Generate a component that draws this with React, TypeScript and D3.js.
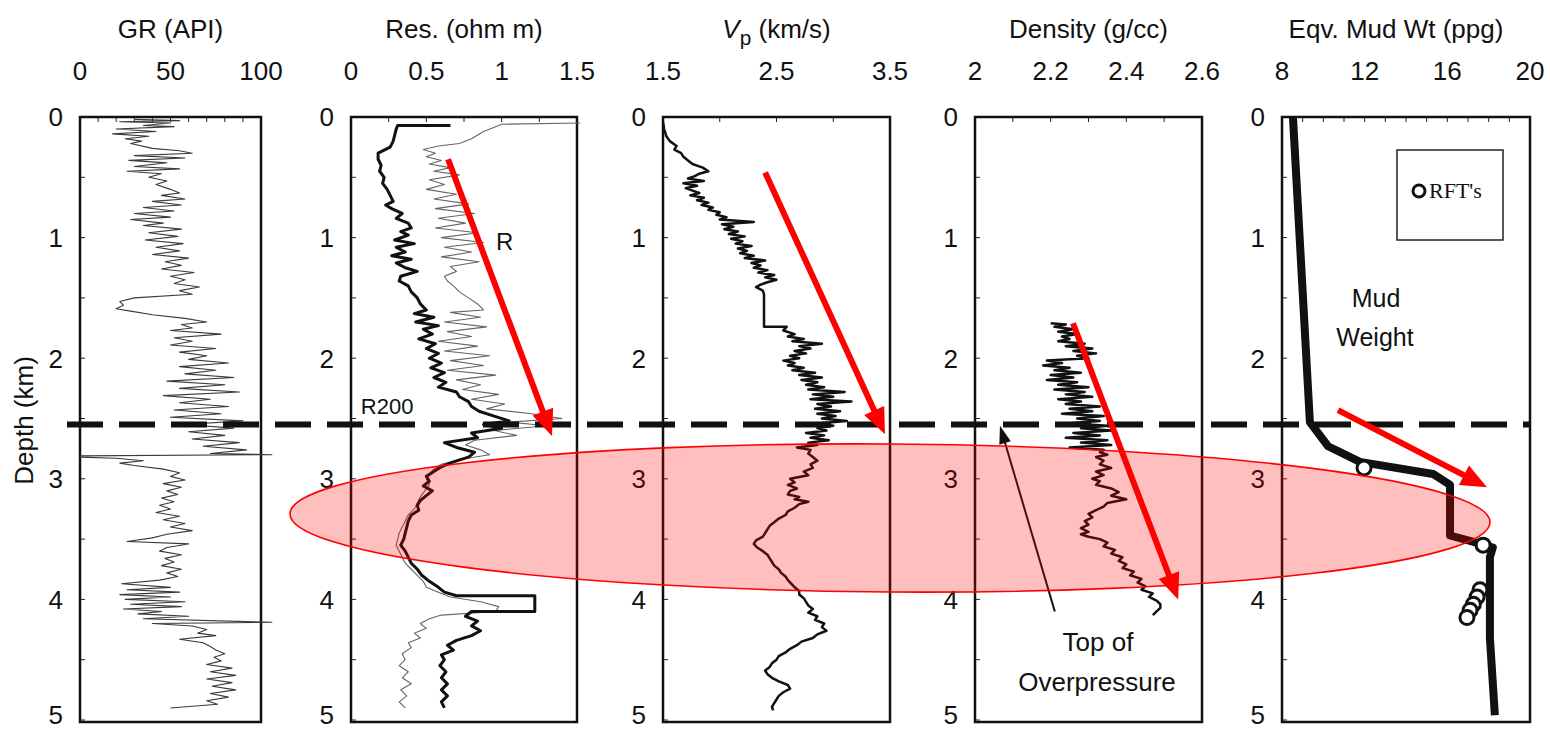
import React from 'react';
import * as d3 from 'd3';

// ---------------- DATA ----------------
const depthTicks = [0, 1, 2, 3, 4, 5];
const grTicks = [0, 50, 100];
const resTicks = [0, 0.5, 1, 1.5];
const vpTicks = [1.5, 2.5, 3.5];
const denTicks = [2, 2.2, 2.4, 2.6];
const mudTicks = [8, 12, 16, 20];

// [depth km, GR API]
const grLog: [number, number][] = [
  [0.02, 30], [0.03, 55], [0.04, 22], [0.05, 50], [0.07, 35], [0.08, 52], [0.1, 20], [0.12, 42], [0.14, 18], [0.16, 38],
  [0.18, 25], [0.2, 34], [0.22, 28], [0.26, 40], [0.28, 55], [0.3, 62], [0.32, 30], [0.34, 58], [0.36, 27], [0.38, 48],
  [0.41, 30], [0.43, 55], [0.45, 26], [0.47, 45], [0.5, 38], [0.53, 48], [0.56, 42], [0.6, 50], [0.63, 55], [0.65, 45],
  [0.68, 58], [0.7, 40], [0.73, 56], [0.75, 35], [0.78, 52], [0.8, 30], [0.83, 50], [0.85, 28], [0.88, 46], [0.9, 35],
  [0.93, 56], [0.96, 38], [0.99, 54], [1.02, 36], [1.05, 57], [1.08, 42], [1.11, 55], [1.14, 40], [1.17, 60], [1.2, 47],
  [1.23, 56], [1.26, 45], [1.29, 63], [1.32, 50], [1.35, 58], [1.38, 52], [1.41, 66], [1.44, 55], [1.47, 62], [1.5, 30],
  [1.53, 22], [1.56, 24], [1.59, 20], [1.61, 28], [1.64, 40], [1.67, 58], [1.7, 70], [1.72, 56], [1.75, 62], [1.77, 50],
  [1.8, 78], [1.83, 52], [1.86, 62], [1.89, 50], [1.92, 75], [1.95, 55], [1.98, 70], [2.01, 60], [2.04, 82], [2.07, 55],
  [2.1, 75], [2.13, 58], [2.16, 85], [2.19, 48], [2.22, 80], [2.25, 55], [2.28, 88], [2.31, 46], [2.34, 72], [2.37, 55],
  [2.4, 82], [2.43, 52], [2.46, 78], [2.49, 50], [2.52, 90], [2.55, 58], [2.58, 85], [2.61, 60], [2.64, 80], [2.67, 62],
  [2.7, 88], [2.73, 68], [2.76, 92], [2.79, 72], [2.8, 106], [2.81, 0], [2.82, 0], [2.83, 20], [2.85, 35], [2.87, 22],
  [2.89, 30], [2.92, 46], [2.95, 55], [2.98, 50], [3.01, 58], [3.04, 46], [3.07, 56], [3.1, 48], [3.13, 54], [3.16, 45],
  [3.19, 52], [3.22, 44], [3.25, 50], [3.28, 42], [3.31, 55], [3.34, 46], [3.37, 58], [3.4, 50], [3.43, 62], [3.46, 48],
  [3.49, 40], [3.52, 26], [3.54, 60], [3.57, 48], [3.6, 44], [3.63, 56], [3.66, 47], [3.69, 52], [3.72, 45], [3.75, 56],
  [3.78, 48], [3.81, 54], [3.84, 44], [3.87, 23], [3.9, 50], [3.92, 26], [3.94, 55], [3.96, 22], [3.98, 50], [4.0, 25],
  [4.02, 58], [4.04, 28], [4.06, 56], [4.08, 24], [4.1, 45], [4.12, 32], [4.14, 60], [4.16, 35], [4.19, 106], [4.2, 40],
  [4.22, 62], [4.25, 70], [4.28, 65], [4.3, 75], [4.33, 55], [4.36, 68], [4.39, 72], [4.42, 75], [4.45, 80], [4.48, 74],
  [4.51, 78], [4.54, 70], [4.57, 84], [4.6, 72], [4.63, 86], [4.66, 70], [4.69, 84], [4.72, 73], [4.75, 86], [4.78, 72],
  [4.81, 82], [4.84, 70], [4.87, 76], [4.9, 50],
];

// [depth km, resistivity ohm m] — thick (deep) curve
const resDeep: [number, number][] = [
  [0.07, 0.66], [0.07, 0.31], [0.1, 0.3], [0.15, 0.29], [0.2, 0.28], [0.25, 0.26], [0.3, 0.18], [0.35, 0.18], [0.4, 0.2],
  [0.45, 0.19], [0.5, 0.22], [0.55, 0.21], [0.6, 0.24], [0.65, 0.26], [0.7, 0.28], [0.73, 0.23], [0.76, 0.27], [0.8, 0.34],
  [0.84, 0.3], [0.88, 0.38], [0.92, 0.4], [0.95, 0.33], [0.98, 0.38], [1.02, 0.29], [1.05, 0.42], [1.08, 0.3], [1.12, 0.36],
  [1.15, 0.27], [1.18, 0.4], [1.21, 0.3], [1.25, 0.36], [1.28, 0.44], [1.32, 0.33], [1.36, 0.32], [1.4, 0.38], [1.45, 0.4],
  [1.5, 0.44], [1.55, 0.46], [1.6, 0.5], [1.63, 0.42], [1.66, 0.55], [1.7, 0.43], [1.73, 0.58], [1.76, 0.48], [1.8, 0.54],
  [1.84, 0.45], [1.88, 0.56], [1.92, 0.5], [1.96, 0.58], [2.0, 0.52], [2.04, 0.6], [2.08, 0.53], [2.12, 0.62], [2.16, 0.55],
  [2.2, 0.63], [2.24, 0.58], [2.28, 0.7], [2.32, 0.72], [2.36, 0.78], [2.4, 0.8], [2.44, 0.85], [2.48, 0.95], [2.52, 1.05],
  [2.55, 0.88], [2.58, 1.0], [2.62, 0.8], [2.66, 0.84], [2.7, 0.62], [2.74, 0.7], [2.78, 0.82], [2.82, 0.78], [2.86, 0.68],
  [2.9, 0.6], [2.94, 0.55], [2.98, 0.5], [3.02, 0.52], [3.06, 0.48], [3.1, 0.54], [3.14, 0.5], [3.18, 0.46], [3.22, 0.44],
  [3.26, 0.45], [3.3, 0.4], [3.35, 0.38], [3.4, 0.37], [3.45, 0.36], [3.5, 0.35], [3.55, 0.33], [3.6, 0.36], [3.65, 0.38],
  [3.7, 0.4], [3.75, 0.44], [3.8, 0.47], [3.85, 0.52], [3.9, 0.58], [3.94, 0.62], [3.97, 0.7], [3.97, 1.22], [4.1, 1.22],
  [4.1, 0.8], [4.14, 0.76], [4.18, 0.84], [4.22, 0.8], [4.26, 0.86], [4.3, 0.8], [4.34, 0.7], [4.38, 0.64], [4.42, 0.68],
  [4.46, 0.6], [4.5, 0.62], [4.55, 0.59], [4.6, 0.63], [4.65, 0.6], [4.7, 0.64], [4.75, 0.6], [4.8, 0.64], [4.85, 0.6],
  [4.9, 0.62],
];

// [depth km, resistivity ohm m] — thin (shallow) curve
const resShallow: [number, number][] = [
  [0.05, 1.52], [0.06, 1.0], [0.08, 0.96], [0.12, 0.88], [0.18, 0.8], [0.22, 0.72], [0.24, 0.58], [0.27, 0.48], [0.3, 0.56],
  [0.33, 0.5], [0.36, 0.6], [0.39, 0.52], [0.42, 0.66], [0.45, 0.55], [0.48, 0.72], [0.52, 0.52], [0.56, 0.62], [0.6, 0.5],
  [0.64, 0.7], [0.68, 0.55], [0.72, 0.78], [0.76, 0.56], [0.8, 0.82], [0.84, 0.58], [0.88, 0.76], [0.92, 0.56], [0.96, 0.84],
  [1.0, 0.6], [1.04, 0.88], [1.08, 0.62], [1.12, 0.8], [1.16, 0.6], [1.2, 0.85], [1.24, 0.66], [1.28, 0.7], [1.32, 0.62],
  [1.36, 0.64], [1.4, 0.68], [1.45, 0.72], [1.5, 0.78], [1.55, 0.84], [1.6, 0.88], [1.62, 0.66], [1.66, 0.86], [1.7, 0.62],
  [1.74, 0.9], [1.78, 0.64], [1.82, 0.8], [1.86, 0.58], [1.9, 0.84], [1.94, 0.62], [1.98, 0.92], [2.02, 0.66], [2.06, 0.88],
  [2.1, 0.64], [2.14, 0.96], [2.18, 0.7], [2.22, 0.86], [2.26, 0.74], [2.3, 0.98], [2.34, 0.8], [2.38, 1.02], [2.42, 0.9],
  [2.46, 1.2], [2.5, 1.4], [2.53, 1.05], [2.56, 1.3], [2.6, 0.95], [2.64, 1.1], [2.68, 0.82], [2.72, 0.76], [2.76, 0.86],
  [2.8, 0.92], [2.84, 0.72], [2.88, 0.6], [2.92, 0.55], [2.96, 0.52], [3.0, 0.5], [3.05, 0.52], [3.1, 0.49], [3.15, 0.46],
  [3.2, 0.44], [3.25, 0.42], [3.3, 0.38], [3.35, 0.36], [3.4, 0.34], [3.45, 0.32], [3.5, 0.31], [3.55, 0.3], [3.6, 0.32],
  [3.65, 0.34], [3.7, 0.36], [3.75, 0.4], [3.8, 0.44], [3.85, 0.48], [3.9, 0.5], [3.94, 0.58], [3.98, 0.66], [4.02, 0.86],
  [4.06, 0.98], [4.1, 0.96], [4.13, 0.6], [4.16, 0.52], [4.2, 0.46], [4.24, 0.5], [4.28, 0.42], [4.32, 0.46], [4.36, 0.38],
  [4.4, 0.4], [4.45, 0.34], [4.5, 0.36], [4.55, 0.32], [4.6, 0.38], [4.65, 0.34], [4.7, 0.4], [4.75, 0.33], [4.8, 0.37],
  [4.85, 0.32], [4.9, 0.36],
];

// [depth km, Vp km/s]
const vpLog: [number, number][] = [
  [0.04, 1.5], [0.1, 1.51], [0.16, 1.53], [0.2, 1.56], [0.24, 1.62], [0.27, 1.6], [0.3, 1.66], [0.33, 1.68], [0.36, 1.72],
  [0.39, 1.76], [0.42, 1.85], [0.45, 1.9], [0.47, 1.82], [0.49, 1.78], [0.51, 1.72], [0.53, 1.86], [0.55, 1.68], [0.57, 1.8],
  [0.59, 1.7], [0.61, 1.76], [0.63, 1.82], [0.65, 1.74], [0.67, 1.86], [0.69, 1.8], [0.71, 1.9], [0.73, 1.84], [0.75, 1.94],
  [0.77, 1.9], [0.79, 2.0], [0.81, 1.97], [0.83, 2.06], [0.85, 2.0], [0.87, 2.3], [0.89, 2.02], [0.91, 2.12], [0.93, 2.04],
  [0.95, 2.16], [0.97, 2.08], [0.99, 2.22], [1.01, 2.1], [1.03, 2.2], [1.05, 2.14], [1.07, 2.28], [1.09, 2.16], [1.11, 2.24],
  [1.13, 2.18], [1.15, 2.3], [1.17, 2.22], [1.19, 2.4], [1.21, 2.28], [1.23, 2.36], [1.25, 2.3], [1.27, 2.42], [1.29, 2.34],
  [1.31, 2.48], [1.33, 2.4], [1.35, 2.5], [1.37, 2.42], [1.39, 2.36], [1.41, 2.32], [1.44, 2.38], [1.47, 2.39], [1.74, 2.39],
  [1.74, 2.59], [1.77, 2.56], [1.8, 2.66], [1.82, 2.6], [1.84, 2.74], [1.86, 2.64], [1.88, 2.9], [1.9, 2.7], [1.92, 2.8],
  [1.94, 2.66], [1.96, 2.76], [1.98, 2.62], [2.0, 2.7], [2.02, 2.56], [2.04, 2.66], [2.06, 2.6], [2.08, 2.74], [2.1, 2.64],
  [2.12, 2.84], [2.14, 2.7], [2.16, 2.9], [2.18, 2.72], [2.2, 2.86], [2.22, 2.76], [2.24, 2.92], [2.26, 2.78], [2.28, 3.1],
  [2.3, 2.82], [2.32, 3.0], [2.34, 2.8], [2.36, 3.16], [2.38, 2.86], [2.4, 2.98], [2.42, 2.84], [2.44, 3.06], [2.46, 2.86],
  [2.48, 3.02], [2.5, 2.9], [2.52, 3.12], [2.54, 2.88], [2.56, 3.0], [2.58, 2.86], [2.6, 2.94], [2.62, 2.76], [2.64, 2.92],
  [2.66, 2.8], [2.68, 2.96], [2.7, 2.78], [2.72, 2.86], [2.74, 2.68], [2.76, 2.8], [2.79, 2.78], [2.82, 2.82], [2.85, 2.86],
  [2.88, 2.8], [2.91, 2.82], [2.94, 2.74], [2.97, 2.78], [3.0, 2.62], [3.03, 2.66], [3.05, 2.6], [3.08, 2.68], [3.1, 2.62],
  [3.13, 2.6], [3.15, 2.7], [3.17, 2.66], [3.19, 2.78], [3.21, 2.7], [3.24, 2.66], [3.27, 2.6], [3.3, 2.58], [3.33, 2.52],
  [3.36, 2.48], [3.39, 2.44], [3.42, 2.42], [3.45, 2.4], [3.48, 2.38], [3.51, 2.32], [3.54, 2.3], [3.57, 2.33], [3.6, 2.38],
  [3.63, 2.42], [3.66, 2.44], [3.69, 2.46], [3.72, 2.48], [3.75, 2.52], [3.78, 2.54], [3.81, 2.58], [3.84, 2.6], [3.87, 2.63],
  [3.9, 2.66], [3.93, 2.7], [3.96, 2.7], [3.99, 2.74], [4.02, 2.76], [4.05, 2.78], [4.08, 2.82], [4.11, 2.78], [4.14, 2.86],
  [4.17, 2.84], [4.2, 2.92], [4.23, 2.9], [4.26, 2.94], [4.29, 2.86], [4.32, 2.82], [4.35, 2.72], [4.38, 2.68], [4.41, 2.62],
  [4.44, 2.58], [4.47, 2.52], [4.5, 2.5], [4.53, 2.46], [4.56, 2.44], [4.59, 2.4], [4.62, 2.42], [4.65, 2.46], [4.68, 2.52],
  [4.71, 2.6], [4.74, 2.62], [4.77, 2.56], [4.8, 2.52], [4.83, 2.5], [4.86, 2.48], [4.89, 2.46], [4.92, 2.47],
];

// [depth km, density g/cc]
const densityLog: [number, number][] = [
  [1.71, 2.2], [1.72, 2.24], [1.74, 2.21], [1.76, 2.26], [1.78, 2.22], [1.8, 2.27], [1.82, 2.23], [1.84, 2.25], [1.86, 2.22],
  [1.88, 2.29], [1.9, 2.24], [1.92, 2.31], [1.94, 2.26], [1.96, 2.32], [1.98, 2.27], [2.0, 2.3], [2.02, 2.19], [2.04, 2.23],
  [2.06, 2.18], [2.08, 2.25], [2.1, 2.21], [2.12, 2.28], [2.14, 2.2], [2.16, 2.26], [2.18, 2.19], [2.2, 2.27], [2.22, 2.22],
  [2.24, 2.3], [2.26, 2.21], [2.28, 2.29], [2.3, 2.24], [2.32, 2.31], [2.34, 2.22], [2.36, 2.28], [2.38, 2.24], [2.4, 2.33],
  [2.42, 2.25], [2.44, 2.31], [2.46, 2.23], [2.48, 2.34], [2.5, 2.27], [2.52, 2.33], [2.54, 2.25], [2.56, 2.35], [2.58, 2.28],
  [2.6, 2.36], [2.62, 2.26], [2.64, 2.33], [2.66, 2.24], [2.68, 2.35], [2.7, 2.28], [2.72, 2.36], [2.74, 2.25], [2.76, 2.34],
  [2.78, 2.33], [2.8, 2.35], [2.82, 2.32], [2.85, 2.34], [2.88, 2.33], [2.91, 2.36], [2.94, 2.32], [2.97, 2.34], [3.0, 2.31],
  [3.02, 2.33], [3.05, 2.32], [3.08, 2.36], [3.11, 2.38], [3.14, 2.36], [3.17, 2.4], [3.2, 2.35], [3.23, 2.34], [3.26, 2.32],
  [3.29, 2.3], [3.32, 2.31], [3.35, 2.29], [3.38, 2.3], [3.41, 2.28], [3.44, 2.3], [3.46, 2.28], [3.48, 2.3], [3.5, 2.33],
  [3.53, 2.35], [3.56, 2.34], [3.59, 2.37], [3.62, 2.36], [3.65, 2.39], [3.68, 2.38], [3.71, 2.4], [3.74, 2.39], [3.77, 2.42],
  [3.8, 2.41], [3.83, 2.44], [3.86, 2.43], [3.89, 2.45], [3.92, 2.44], [3.95, 2.47], [3.98, 2.46], [4.01, 2.48], [4.04, 2.49],
  [4.07, 2.49], [4.1, 2.48], [4.13, 2.47],
];

// [depth km, equivalent mud weight ppg]
const mudWeight: [number, number][] = [
  [0.0, 8.53], [2.53, 9.35], [2.73, 10.23], [2.86, 11.77], [2.96, 15.31], [3.05, 16.13], [3.47, 16.13], [3.53, 17.4],
  [3.57, 18.2], [3.65, 18.06], [4.32, 18.06], [4.96, 18.3],
];

// RFT pressure measurements [depth km, ppg]
const rftPoints: [number, number][] = [
  [2.91, 11.97], [3.55, 17.73], [3.92, 17.58], [3.98, 17.44], [4.04, 17.26], [4.09, 17.1], [4.15, 16.95],
];

const topOverpressureDepth = 2.55;

// ---------------- LAYOUT ----------------
const W = 1550;
const H = 730;
const yScale = d3.scaleLinear().domain([0, 5]).range([117, 720]);
const FONT = "'Liberation Sans', Arial, Helvetica, sans-serif";

type Panel = {
  key: string;
  x0: number;
  x1: number;
  domain: [number, number];
  ticks: number[];
  minorStep: number;
};

const panels: Panel[] = [
  { key: 'gr', x0: 80, x1: 261, domain: [0, 100], ticks: grTicks, minorStep: 10 },
  { key: 'res', x0: 351, x1: 577, domain: [0, 1.5], ticks: resTicks, minorStep: 0.25 },
  { key: 'vp', x0: 663, x1: 890, domain: [1.5, 3.5], ticks: vpTicks, minorStep: 0.5 },
  { key: 'den', x0: 975, x1: 1202, domain: [2, 2.6], ticks: denTicks, minorStep: 0.1 },
  { key: 'mud', x0: 1282, x1: 1530, domain: [8, 20], ticks: mudTicks, minorStep: 1 },
];

const xs: Record<string, d3.ScaleLinear<number, number>> = {};
panels.forEach((p) => {
  xs[p.key] = d3.scaleLinear().domain(p.domain).range([p.x0, p.x1]);
});

function linePath(key: string, data: [number, number][]) {
  const x = xs[key];
  return (
    d3
      .line<[number, number]>()
      .x((d) => x(d[1]))
      .y((d) => yScale(d[0]))(data) || ''
  );
}

function Arrow(props: {
  x1: number; y1: number; x2: number; y2: number; color: string; width: number; headLen: number; headW: number;
}) {
  const { x1, y1, x2, y2, color, width, headLen, headW } = props;
  const dx = x2 - x1;
  const dy = y2 - y1;
  const L = Math.hypot(dx, dy);
  const ux = dx / L;
  const uy = dy / L;
  const bx = x2 - ux * headLen;
  const by = y2 - uy * headLen;
  const px = -uy;
  const py = ux;
  return (
    <g>
      <line x1={x1} y1={y1} x2={bx + ux * 2} y2={by + uy * 2} stroke={color} strokeWidth={width} />
      <polygon
        points={`${x2},${y2} ${bx + px * headW},${by + py * headW} ${bx - px * headW},${by - py * headW}`}
        fill={color}
      />
    </g>
  );
}

// annotation arrows in data coordinates: [panel, fromValue, fromDepth, toValue, toDepth]
const redArrows: [string, number, number, number, number][] = [
  ['res', 0.644, 0.35, 1.334, 2.645],
  ['vp', 2.4, 0.46, 3.456, 2.63],
  ['den', 2.259, 1.71, 2.537, 4.0],
  ['mud', 10.71, 2.43, 17.92, 3.07],
];

export default function App() {
  const titleY = 38;
  const tickLabelY = 80;
  const fs = 26;
  const yTop = yScale(0);
  const yBot = yScale(5) + 2;
  const dashY = yScale(topOverpressureDepth);

  const denX = xs['den'];
  const mudX = xs['mud'];
  const resX = xs['res'];

  return (
    <svg
      width={W}
      height={H}
      viewBox={`0 0 ${W} ${H}`}
      style={{ position: 'absolute', left: 0, top: 0, background: '#fff' }}
      fontFamily={FONT}
    >
      <rect x={0} y={0} width={W} height={H} fill="#fff" />

      {/* Titles */}
      <text x={(panels[0].x0 + panels[0].x1) / 2} y={titleY} fontSize={fs} textAnchor="middle" fill="#111">GR (API)</text>
      <text x={(panels[1].x0 + panels[1].x1) / 2} y={titleY} fontSize={fs} textAnchor="middle" fill="#111">Res. (ohm m)</text>
      <text x={(panels[2].x0 + panels[2].x1) / 2} y={titleY} fontSize={fs} textAnchor="middle" fill="#111">
        <tspan fontStyle="italic">V</tspan>
        <tspan fontSize={fs * 0.8} dy={7}>p</tspan>
        <tspan dy={-7}> (km/s)</tspan>
      </text>
      <text x={(panels[3].x0 + panels[3].x1) / 2} y={titleY} fontSize={fs} textAnchor="middle" fill="#111">Density (g/cc)</text>
      <text x={(panels[4].x0 + panels[4].x1) / 2 - 10} y={titleY} fontSize={fs} textAnchor="middle" fill="#111">Eqv. Mud Wt (ppg)</text>

      {/* Depth axis title */}
      <text
        transform={`translate(24, ${(yTop + yScale(5)) / 2 + 2}) rotate(-90)`}
        fontSize={26}
        textAnchor="middle"
        dominantBaseline="central"
        fill="#111"
      >
        Depth (km)
      </text>

      {/* Panels: boxes, ticks, labels */}
      {panels.map((p) => {
        const x = xs[p.key];
        const minor = d3.range(p.domain[0], p.domain[1] + 1e-9, p.minorStep);
        const depthMinor = d3.range(0, 5.0001, 0.5);
        return (
          <g key={p.key}>
            {p.ticks.map((t) => (
              <text key={'t' + t} x={x(t)} y={tickLabelY} fontSize={fs} textAnchor="middle" fill="#111">
                {String(t)}
              </text>
            ))}
            {depthTicks.map((d) => (
              <text
                key={'d' + d}
                x={p.x0 - 17}
                y={Math.min(yScale(d) + 9.4, 724)}
                fontSize={fs}
                textAnchor="end"
                fill="#111"
              >
                {String(d)}
              </text>
            ))}
            {minor.map((t, i) => (
              <line key={'m' + i} x1={x(t)} x2={x(t)} y1={yTop} y2={yTop + 5} stroke="#222" strokeWidth={1} />
            ))}
            {depthMinor.map((d, i) => (
              <line key={'dm' + i} x1={p.x0} x2={p.x0 + 5} y1={yScale(d)} y2={yScale(d)} stroke="#222" strokeWidth={1} />
            ))}
            <rect x={p.x0} y={yTop} width={p.x1 - p.x0} height={yBot - yTop} fill="none" stroke="#111" strokeWidth={2.5} />
          </g>
        );
      })}

      {/* Log curves */}
      <path d={linePath('gr', grLog)} fill="none" stroke="#3a3a3a" strokeWidth={1.1} strokeLinejoin="round" />
      <path d={linePath('res', resShallow)} fill="none" stroke="#666" strokeWidth={1.1} strokeLinejoin="round" />
      <path d={linePath('res', resDeep)} fill="none" stroke="#111" strokeWidth={3} strokeLinejoin="round" />
      <path d={linePath('vp', vpLog)} fill="none" stroke="#111" strokeWidth={2.5} strokeLinejoin="round" />
      <path d={linePath('den', densityLog)} fill="none" stroke="#111" strokeWidth={2.5} strokeLinejoin="round" />
      <path d={linePath('mud', mudWeight)} fill="none" stroke="#111" strokeWidth={8} strokeLinejoin="round" />

      {/* RFT points */}
      {rftPoints.map((d, i) => (
        <circle key={'rft' + i} cx={mudX(d[1])} cy={yScale(d[0])} r={7} fill="#fff" stroke="#111" strokeWidth={3} />
      ))}

      {/* Legend */}
      <rect x={1397} y={150} width={106} height={90} fill="#fff" stroke="#222" strokeWidth={1.5} />
      <circle cx={1419} cy={191} r={6} fill="#fff" stroke="#111" strokeWidth={3} />
      <text x={1429} y={198} fontSize={22} fontFamily="'Liberation Serif', 'Times New Roman', serif" fill="#111">RFT's</text>

      {/* Top of overpressure dashed line */}
      <line x1={67} x2={1530} y1={dashY} y2={dashY} stroke="#111" strokeWidth={6} strokeDasharray="36 16" />

      {/* Text annotations */}
      <text x={resX(0.24)} y={414} fontSize={22} textAnchor="middle" fill="#111">R200</text>
      <text x={resX(1.02)} y={yScale(1.1)} fontSize={24} textAnchor="middle" fill="#111">R</text>
      <text x={1376} y={307} fontSize={25} textAnchor="middle" fill="#111">Mud</text>
      <text x={1375} y={346} fontSize={25} textAnchor="middle" fill="#111">Weight</text>
      <text x={1098} y={651} fontSize={26} textAnchor="middle" fill="#111">Top of</text>
      <text x={1097} y={691} fontSize={26} textAnchor="middle" fill="#111">Overpressure</text>

      {/* Black arrow to top of overpressure */}
      <Arrow
        x1={denX(2.211)}
        y1={yScale(4.1)}
        x2={denX(2.066)}
        y2={yScale(2.56)}
        color="#111"
        width={2}
        headLen={18}
        headW={6}
      />

      {/* Highlight ellipse */}
      <ellipse
        cx={890}
        cy={518}
        rx={600}
        ry={74}
        transform="rotate(0.4 890 518)"
        fill="rgb(255,0,0)"
        fillOpacity={0.25}
        stroke="#ff0000"
        strokeWidth={1.6}
      />

      {/* Red trend arrows */}
      {redArrows.map(([k, v1, d1, v2, d2], i) => (
        <Arrow
          key={'ra' + i}
          x1={xs[k](v1)}
          y1={yScale(d1)}
          x2={xs[k](v2)}
          y2={yScale(d2)}
          color="#ff0000"
          width={6}
          headLen={26}
          headW={11}
        />
      ))}
    </svg>
  );
}
